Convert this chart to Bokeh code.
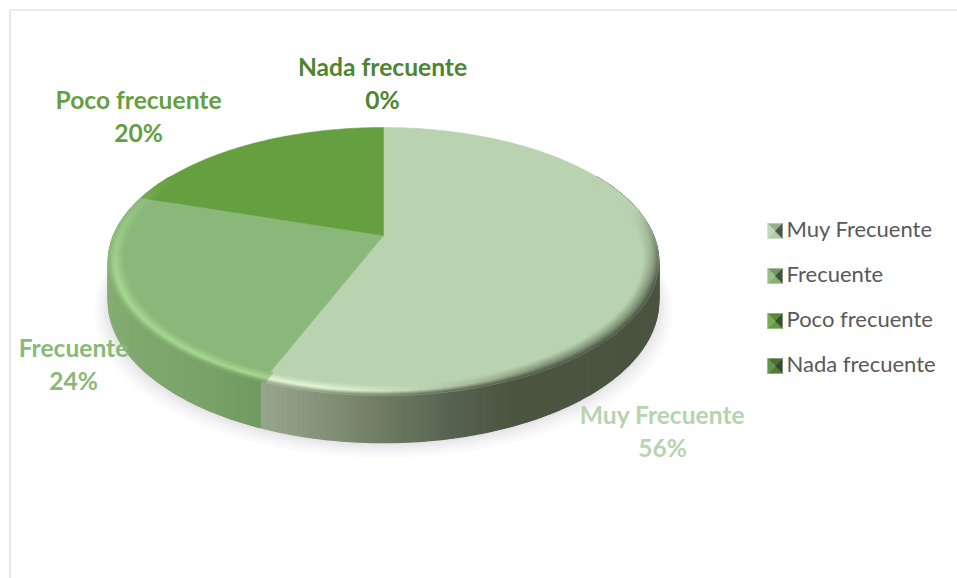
import numpy as np
from bokeh.plotting import figure
from bokeh.models import Range1d
from bokeh.core.properties import value
from bokeh.embed import file_html
from bokeh.resources import INLINE

# ---- data
categories = ["Muy Frecuente", "Frecuente", "Poco frecuente", "Nada frecuente"]
percent = [56, 24, 20, 0]

# ---- styles and layout
face_colors = ["#b9d2b0", "#8ab87a", "#659f3f", "#4f8433"]
label_colors = ["#b9d2b0", "#8ab87a", "#659f3f", "#4f8433"]
label_pos = [(662, 414), (73, 347), (138, 99), (382, 66)]
LABEL_PITCH = 33
legend_y = [230.5, 275.5, 320.5, 365.5]
CX, CY, RX, RY, K, DEPTH = 383, 235, 270, 129, 0.194, 38


def project(theta_deg, r=1.0):
    t = np.radians(theta_deg)
    u, v = r * np.sin(t), -r * np.cos(t)
    w = 1 / (1 - K * v)
    return CX + RX * u * w, CY + RY * v * w, w


def hex2rgb(h):
    return np.array([int(h[i:i + 2], 16) for i in (1, 3, 5)], float)


def mix(a, b, t):
    c = a + (b - a) * np.clip(t, 0, 1)
    return "#%02x%02x%02x" % tuple(int(round(x)) for x in c)


def to_hex(c):
    return "#%02x%02x%02x" % tuple(int(round(x)) for x in c)


def ramp(x, xs, cols):
    arr = np.array([hex2rgb(c) for c in cols])
    return np.array([np.interp(x, xs, arr[:, i]) for i in range(3)])


p = figure(width=957, height=578, toolbar_location=None, output_backend="svg",
           x_range=Range1d(0, 957), y_range=Range1d(578, 0),
           min_border=0, outline_line_color=None)
p.axis.visible = False
p.grid.visible = False
p.background_fill_color = "#ffffff"
p.border_fill_color = "#ffffff"

# chart frame (top and left only, the rest is cropped)
p.line([9.5, 9.5, 957], [578, 9.5, 9.5], line_color="#d9d9d9", line_width=1.2)

ths = np.linspace(0, 360, 361)
# soft drop shadow
for grow, a in [(14, .03), (11, .035), (8, .04), (5, .05), (2, .06)]:
    xs, ys = [], []
    for th in ths:
        x, y, w = project(th)
        xs.append(x + (x - CX) * grow / 280)
        ys.append(y + DEPTH * w + 1 + grow * (0.7 + 0.3 * np.cos(np.radians(th - 180))))
    p.patch(xs, ys, fill_color="#808090", fill_alpha=a, line_color=None)

# cumulative angles
edges = np.cumsum([0] + percent) * 3.6


def side_color(th):
    x = project(th)[0]
    if th <= edges[1]:
        return ramp(x, [262, 300, 380, 450, 510, 660],
                    ["#97a58c", "#8b9a80", "#707d64", "#566350", "#4b5541", "#4a5440"])
    return ramp(x, [105, 130, 200, 262],
                ["#86ad74", "#80a96f", "#7aa269", "#6f9a5f"])


# side wall
sx, sy, sc = [], [], []
step = 1.0
for th in np.arange(60, 300, step):
    x0, y0, w0 = project(th)
    x1, y1, w1 = project(th + step)
    sx.append([x0, x1, x1, x0])
    sy.append([y0, y1, y1 + DEPTH * w1, y0 + DEPTH * w0])
    sc.append(to_hex(side_color(th + step / 2)))
p.patches(sx, sy, fill_color=sc, line_color=sc, line_width=1.3)

# top face wedges
for i, cat in enumerate(categories):
    if percent[i] == 0:
        continue
    a = np.arange(edges[i], edges[i + 1] + 0.5, 1.0)
    a[-1] = edges[i + 1]
    xs = [CX] + [project(t)[0] for t in a]
    ys = [CY] + [project(t)[1] for t in a]
    p.patch(xs, ys, fill_color=face_colors[i], line_color=face_colors[i], line_width=0.5)


# bevel along the rim: face -> highlight/shadow -> wall
def band_color(th, t):
    th_ = th % 360
    idx = min(int(np.searchsorted(edges[1:], th_)), 3)
    face = hex2rgb(face_colors[idx])
    end = side_color(min(max(th_, 60), 299))
    if idx == 0:
        mid = face + (end - face) * 0.5
        hi = mid + (hex2rgb("#e4f7d6") - mid) * np.clip((th_ - 150) / 40, 0, 1)
        vis = np.clip((th_ - 78) / 35, 0, 1)
    else:
        hi = hex2rgb("#a8d993")
        vis = np.clip((300 - th_) / 50, 0, 1)
    if t < .6:
        c = face + (hi - face) * (t / .6) * vis
    else:
        c = face + (hi - face) * vis
        c = c + (end - c) * ((t - .6) / .4) * vis
    return c


RINGS = 9
R_IN = 0.945
bx, by, bc = [], [], []
for k in range(RINGS):
    r0 = R_IN + (1 - R_IN) * k / RINGS
    r1 = R_IN + (1 - R_IN) * (k + 1) / RINGS
    for th in np.arange(60, 300, 1.5):
        tm = th + .75
        x0, y0, _ = project(th, r0)
        x1, y1, _ = project(th + 1.5, r0)
        x2, y2, _ = project(th + 1.5, r1)
        x3, y3, _ = project(th, r1)
        bx.append([x0, x1, x2, x3])
        by.append([y0, y1, y2, y3])
        bc.append(to_hex(band_color(tm, (k + .5) / RINGS)))
p.patches(bx, by, fill_color=bc, line_color=bc, line_width=0.6)

# data labels
for i, cat in enumerate(categories):
    x, y = label_pos[i]
    p.text([x], [y], text=[cat], text_font=value("Lato"), text_font_style="bold",
           text_font_size="24.6px", text_color=label_colors[i],
           text_align="center", text_baseline="middle")
    p.text([x], [y + LABEL_PITCH], text=[f"{percent[i]}%"], text_font=value("Lato"),
           text_font_style="bold", text_font_size="24.6px", text_color=label_colors[i],
           text_align="center", text_baseline="middle")

# legend with pillow-shaded keys
HS = 7.5
for i, cat in enumerate(categories):
    lx, ly = 774.5, legend_y[i]
    base = hex2rgb(face_colors[i])
    white, dark = hex2rgb("#ffffff"), hex2rgb("#2f3a2a")
    tris = [
        ([lx - HS, lx + HS, lx], [ly - HS, ly - HS, ly], mix(base, dark, .25)),
        ([lx - HS, lx + HS, lx], [ly + HS, ly + HS, ly], mix(base, dark, .05)),
        ([lx - HS, lx - HS, lx], [ly - HS, ly + HS, ly], mix(base, white, .12)),
        ([lx + HS, lx + HS, lx], [ly - HS, ly + HS, ly], mix(base, dark, .8)),
    ]
    for tx, ty, col in tris:
        p.patch(tx, ty, fill_color=col, line_color=col, line_width=0.3)
    p.text([786], [ly - 2.5], text=[cat], text_font=value("Lato"), text_font_size="22px",
           text_color="#595959", text_align="left", text_baseline="middle")

open("out.html", "w").write(file_html(p, INLINE))
